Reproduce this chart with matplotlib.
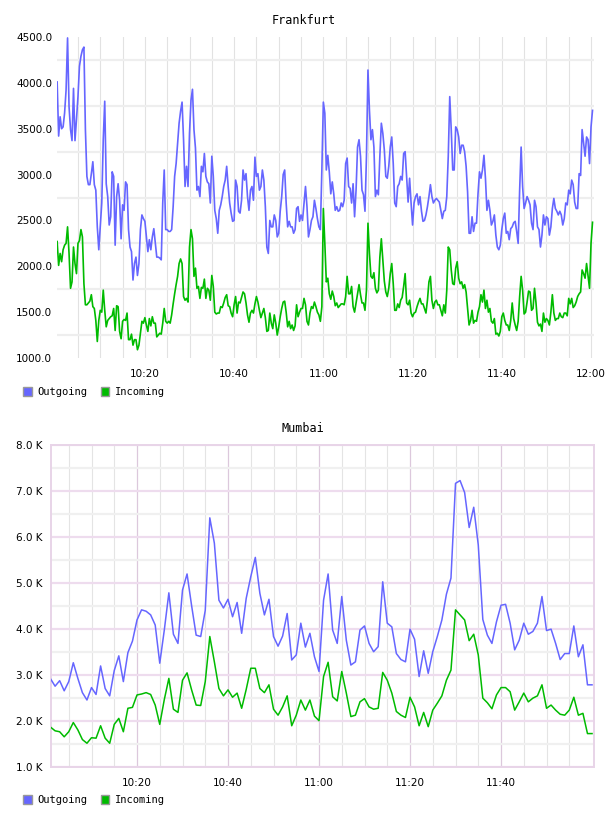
import matplotlib
matplotlib.use("Agg")
import matplotlib.pyplot as plt
import matplotlib.dates as mdates
from matplotlib.patches import Patch
from matplotlib.ticker import FixedLocator, FuncFormatter
import numpy as np
import pandas as pd

# Frankfurt: 20 s samples from 10:00:20 to 12:00:20
fra_out = [
    4010, 3420, 3630, 3500, 3520, 3670, 3920, 4490, 3740, 3490,
    3370, 3940, 3370, 3600, 3850, 4180, 4290, 4360, 4390, 3490,
    2980, 2890, 2890, 3010, 3140, 2890, 2830, 2430, 2180, 2430,
    2690, 3380, 3800, 2900, 2760, 2450, 2540, 3030, 2980, 2230,
    2760, 2900, 2720, 2300, 2670, 2610, 2920, 2890, 2400, 2210,
    2160, 1850, 2030, 2100, 1900, 2030, 2400, 2560, 2520, 2490,
    2320, 2160, 2290, 2180, 2320, 2410, 2250, 2100, 2100, 2090,
    2070, 2690, 3050, 2400, 2400, 2380, 2380, 2400, 2650, 2980,
    3120, 3340, 3560, 3690, 3790, 3380, 2870,
    3090, 2870, 3450, 3810, 3930, 3490, 3290, 2830, 2870, 2760,
    3090, 3030, 3230, 2980, 2920, 2900, 2690, 3200, 2980, 2610,
    2520, 2360, 2610, 2670, 2760, 2870, 2940, 3090, 2870, 2690,
    2580, 2490, 2500, 2940, 2870, 2600, 2580, 2720, 3050, 2940,
    3010, 2760, 2610, 2830, 2870, 2720, 3190, 2980, 3010, 2830,
    2870, 3050, 2940, 2650, 2210, 2140, 2500, 2430, 2430, 2560,
    2500, 2320, 2360, 2600, 2760, 3000, 3050, 2690, 2430, 2490,
    2430, 2430, 2360, 2400, 2630, 2650, 2490, 2560, 2500, 2690,
    2870, 2650, 2320, 2400, 2500, 2540, 2720, 2630, 2520, 2430,
    2400, 3050, 3790, 3670, 3050, 3210, 3030, 2790, 2920, 2790,
    2610, 2650, 2600, 2610, 2690, 2650, 2720, 3120, 3180, 2870,
    2850, 2690, 2900, 2540, 2830, 3300, 3380, 3200, 2830, 2780,
    2600, 3200, 4140, 3700, 3380, 3490, 3300, 2760, 2830, 2780,
    3200, 3560, 3450, 3270, 2980, 2960, 3090, 3300, 3410, 3120,
    2690, 2650, 2870, 2900, 2980, 2940, 3230, 3250, 2980, 2700,
    2960, 2690, 2450, 2690, 2760, 2790, 2670, 2760, 2600, 2490,
    2500, 2560, 2650, 2760, 2890, 2760, 2690, 2720, 2740, 2720,
    2700, 2610, 2520, 2600, 2610, 2760, 3200, 3850, 3490, 3050,
    3050, 3520, 3490, 3410, 3230, 3320, 3320, 3250, 3090, 2810,
    2360, 2360, 2540, 2380, 2470, 2470, 2790, 3030, 2960, 3050,
    3210, 2960, 2610, 2720, 2610, 2450, 2490, 2560, 2340, 2210,
    2180, 2230, 2400, 2520, 2580, 2360, 2380, 2290, 2410, 2430,
    2475, 2490, 2380, 2250, 2830, 3300, 2870, 2630, 2690, 2760,
    2720, 2670, 2470, 2400, 2720, 2650, 2430, 2400, 2210, 2340,
    2560, 2450, 2540, 2520, 2340, 2430, 2630, 2740, 2630, 2600,
    2560, 2600, 2560, 2450, 2520, 2690, 2670, 2830, 2790, 2940,
    2890, 2700, 2630, 2630, 3010, 2990, 3490, 3340, 3200, 3410,
    3380, 3120, 3520, 3700,
]
fra_in = [
    2270, 2010, 2140, 2050, 2180, 2230, 2250, 2430, 2140, 1760,
    1830, 2210, 2030, 1920, 2250, 2280, 2400, 2320, 1810, 1580,
    1580, 1600, 1620, 1690, 1560, 1540, 1410, 1180, 1410, 1520,
    1500, 1740, 1520, 1340, 1410, 1430, 1450, 1460, 1540, 1300,
    1570, 1560, 1290, 1210, 1400, 1420, 1410, 1490, 1200, 1200,
    1260, 1140, 1200, 1200, 1090, 1140, 1270, 1400, 1380, 1440,
    1360, 1290, 1430, 1350, 1450, 1380, 1380, 1230, 1250, 1270,
    1260, 1380, 1540, 1400, 1380, 1400, 1380, 1470, 1590, 1700,
    1800, 1890, 2030, 2080, 2030, 1670, 1630,
    1650, 1610, 2210, 2400, 2300, 1890, 1980, 1760, 1780, 1650,
    1770, 1760, 1860, 1650, 1760, 1740, 1630, 1900, 1780, 1500,
    1480, 1490, 1490, 1560, 1550, 1600, 1660, 1690, 1570, 1560,
    1490, 1450, 1580, 1670, 1490, 1610, 1600, 1660, 1720, 1700,
    1600, 1470, 1390, 1490, 1520, 1490, 1590, 1670, 1610, 1520,
    1440, 1490, 1540, 1440, 1290, 1300, 1490, 1380, 1320, 1470,
    1380, 1250, 1340, 1450, 1540, 1610, 1620, 1500, 1340, 1400,
    1320, 1360, 1300, 1350, 1580, 1450, 1500, 1540, 1540, 1650,
    1580, 1400, 1360, 1490, 1560, 1540, 1610, 1560, 1500, 1470,
    1400, 1560, 2630, 2250, 1830, 1870, 1700, 1640, 1730, 1670,
    1570, 1600, 1550, 1570, 1590, 1590, 1580, 1670, 1890, 1700,
    1700, 1780, 1560, 1500, 1600, 1700, 1800, 1690, 1600, 1600,
    1520, 1740, 2470, 2140, 1890, 1870, 1930, 1760, 1710, 1740,
    2100, 2300, 2070, 1840, 1720, 1670, 1760, 1920, 2030, 1810,
    1520, 1520, 1590, 1550, 1630, 1660, 1780, 1920, 1600, 1580,
    1630, 1490, 1450, 1490, 1500, 1560, 1610, 1650, 1590, 1590,
    1540, 1490, 1630, 1830, 1890, 1630, 1540, 1610, 1630, 1580,
    1580, 1520, 1460, 1580, 1490, 1740, 2210, 2180, 1960, 1810,
    1800, 1980, 2050, 1870, 1810, 1830, 1760, 1800, 1720, 1540,
    1360, 1410, 1520, 1380, 1410, 1400, 1500, 1560, 1690, 1610,
    1740, 1540, 1630, 1500, 1540, 1400, 1380, 1430, 1260, 1270,
    1240, 1290, 1450, 1490, 1410, 1360, 1360, 1300, 1410, 1600,
    1430, 1360, 1300, 1400, 1670, 1890, 1740, 1480, 1500, 1610,
    1730, 1720, 1520, 1540, 1760, 1600, 1390, 1350, 1370, 1290,
    1490, 1390, 1430, 1410, 1360, 1500, 1690, 1490, 1410, 1430,
    1430, 1490, 1450, 1440, 1490, 1490, 1460, 1650, 1590, 1650,
    1550, 1570, 1610, 1670, 1700, 1720, 1960, 1920, 1870, 2030,
    1890, 1760, 2250, 2480,
]

# Mumbai: 1 min samples from 10:01 to 12:00, in thousands
mum_out = [
    2.91, 2.75, 2.87, 2.65, 2.85, 3.26, 2.92, 2.61, 2.45, 2.72,
    2.57, 3.19, 2.70, 2.54, 3.09, 3.41, 2.85, 3.48, 3.73, 4.19,
    4.41, 4.38, 4.30, 4.08, 3.25, 3.97, 4.78, 3.88, 3.68, 4.84,
    5.19, 4.50, 3.86, 3.83, 4.40, 6.41, 5.86, 4.62, 4.45, 4.64,
    4.26, 4.57, 3.90, 4.66, 5.13, 5.55, 4.77, 4.30, 4.64, 3.83,
    3.62, 3.84, 4.33, 3.32, 3.43, 4.12, 3.60, 3.90, 3.39, 3.07,
    4.62, 5.19, 3.97, 3.68, 4.70, 3.75, 3.21, 3.28, 3.97, 4.06,
    3.68, 3.50, 3.61, 5.02, 4.12, 4.04, 3.46, 3.33, 3.28, 3.99,
    3.77, 2.96, 3.52, 3.03, 3.50, 3.83, 4.19, 4.75, 5.10, 7.16,
    7.22, 6.96, 6.20, 6.64, 5.82, 4.20, 3.86, 3.68, 4.15, 4.51,
    4.53, 4.12, 3.54, 3.75, 4.12, 3.88, 3.94, 4.12, 4.70, 3.96,
    3.99, 3.68, 3.33, 3.46, 3.46, 4.06, 3.39, 3.65, 2.78, 2.78,
]
mum_in = [
    1.86, 1.78, 1.76, 1.65, 1.76, 1.96, 1.80, 1.59, 1.51, 1.63,
    1.62, 1.89, 1.62, 1.51, 1.92, 2.05, 1.76, 2.27, 2.29, 2.56,
    2.58, 2.61, 2.57, 2.34, 1.92, 2.46, 2.92, 2.25, 2.18, 2.88,
    3.04, 2.67, 2.34, 2.33, 2.85, 3.83, 3.28, 2.70, 2.54, 2.67,
    2.51, 2.60, 2.27, 2.68, 3.14, 3.14, 2.70, 2.61, 2.78, 2.25,
    2.12, 2.30, 2.54, 1.89, 2.12, 2.45, 2.23, 2.45, 2.10, 2.00,
    2.96, 3.27, 2.52, 2.43, 3.07, 2.60, 2.09, 2.12, 2.41, 2.48,
    2.30, 2.25, 2.27, 3.05, 2.88, 2.60, 2.20, 2.12, 2.07, 2.51,
    2.30, 1.89, 2.18, 1.87, 2.23, 2.38, 2.54, 2.88, 3.10, 4.41,
    4.30, 4.19, 3.74, 3.88, 3.43, 2.49, 2.39, 2.26, 2.56, 2.72,
    2.72, 2.63, 2.23, 2.41, 2.60, 2.41, 2.49, 2.54, 2.78, 2.27,
    2.34, 2.23, 2.14, 2.12, 2.23, 2.51, 2.12, 2.16, 1.72, 1.72,
]

series_names = ["Outgoing", "Incoming"]
series_colors = ["#6666ff", "#00bb00"]
mum_labels = ["10:20", "10:40", "11:00", "11:20", "11:40"]

day = "2013-05-14 "
fra_t = pd.date_range(day + "10:00:20", periods=len(fra_out), freq="20s")
mum_t = pd.date_range(day + "10:01:00", periods=len(mum_out), freq="1min")

mono = "DejaVu Sans Mono"
sans = "DejaVu Sans"

fig = plt.figure(figsize=(6.08, 8.16), dpi=100)
W, H = 608, 816


def add_legend(y_px):
    handles = [Patch(facecolor=c, edgecolor="#999999", linewidth=1.0, label=n)
               for n, c in zip(series_names, series_colors)]
    fig.legend(handles=handles, loc="center left", bbox_to_anchor=(23 / W, 1 - y_px / H),
               ncol=2, frameon=False, handlelength=0.85, handleheight=0.85,
               handletextpad=0.5, columnspacing=1.3, borderpad=0, borderaxespad=0,
               prop={"family": mono, "size": 7.5})


# ---- Frankfurt ----
ax1 = fig.add_axes([57 / W, 1 - 358 / H, 537 / W, 321 / H])
ax1.plot(fra_t, fra_out, color=series_colors[0], lw=1.2, zorder=3)
ax1.plot(fra_t, fra_in, color=series_colors[1], lw=1.2, zorder=3)
ax1.set_xlim(pd.Timestamp(day + "10:00:18"), pd.Timestamp(day + "12:00:40"))
ax1.set_ylim(1000, 4500)
ax1.yaxis.set_major_locator(FixedLocator(np.arange(1000, 4501, 500)))
ax1.yaxis.set_minor_locator(FixedLocator(np.arange(1250, 4300, 500)))
ax1.yaxis.set_major_formatter(FuncFormatter(lambda v, p: "%.1f" % v))
ax1.xaxis.set_major_locator(mdates.MinuteLocator(byminute=[0, 20, 40]))
ax1.xaxis.set_minor_locator(mdates.MinuteLocator(byminute=range(0, 60, 5)))
ax1.xaxis.set_major_formatter(mdates.DateFormatter("%H:%M"))
ax1.grid(which="minor", axis="y", color="#eeeeee", lw=1.6)
ax1.grid(which="both", axis="x", color="#e2e2e2", lw=0.8)
for s in ax1.spines.values():
    s.set_visible(False)
ax1.tick_params(which="both", length=0)
ax1.tick_params(axis="y", pad=3.5)
ax1.tick_params(axis="x", pad=8)
for lab in ax1.get_xticklabels() + ax1.get_yticklabels():
    lab.set_fontfamily(sans)
    lab.set_fontsize(7.5)
fig.text(304 / W, 1 - 20 / H, "Frankfurt", ha="center", va="center", family=mono, fontsize=8.5)
add_legend(392)

# ---- Mumbai ----
ax2 = fig.add_axes([50.7 / W, 1 - 766.7 / H, 543.3 / W, 322 / H])
ax2.plot(mum_t, mum_out, color=series_colors[0], lw=1.1, zorder=3)
ax2.plot(mum_t, mum_in, color=series_colors[1], lw=1.1, zorder=3)
ax2.set_xlim(pd.Timestamp(day + "10:01:02"), pd.Timestamp(day + "12:00:26"))
ax2.set_ylim(1.0, 8.0)
ax2.yaxis.set_major_locator(FixedLocator(np.arange(1, 8.5, 1)))
ax2.yaxis.set_minor_locator(FixedLocator(np.arange(1.5, 8, 1)))
ax2.yaxis.set_major_formatter(FuncFormatter(lambda v, p: "%.1f K" % v))
major_pos = [mdates.date2num(pd.Timestamp(day + s)) for s in mum_labels]
ax2.xaxis.set_major_locator(FixedLocator(major_pos))
ax2.xaxis.set_minor_locator(mdates.MinuteLocator(byminute=[5, 10, 15, 25, 30, 35, 45, 50, 55]))
ax2.xaxis.set_major_formatter(mdates.DateFormatter("%H:%M"))
ax2.grid(which="major", axis="y", color="#eedcee", lw=1.6)
ax2.grid(which="minor", axis="y", color="#f0f0f0", lw=1.6)
ax2.grid(which="major", axis="x", color="#dcc8dc", lw=0.9)
ax2.grid(which="minor", axis="x", color="#e4e4e4", lw=0.8)
for s in ax2.spines.values():
    s.set_color("#e8d4e8")
    s.set_linewidth(1.4)
ax2.tick_params(which="both", length=0)
ax2.tick_params(axis="y", pad=6)
ax2.tick_params(axis="x", pad=8)
for lab in ax2.get_xticklabels() + ax2.get_yticklabels():
    lab.set_fontfamily(sans)
    lab.set_fontsize(7.5)
fig.text(303 / W, 1 - 428 / H, "Mumbai", ha="center", va="center", family=mono, fontsize=8.5)
add_legend(800)

fig.savefig("out.png", dpi=100)
